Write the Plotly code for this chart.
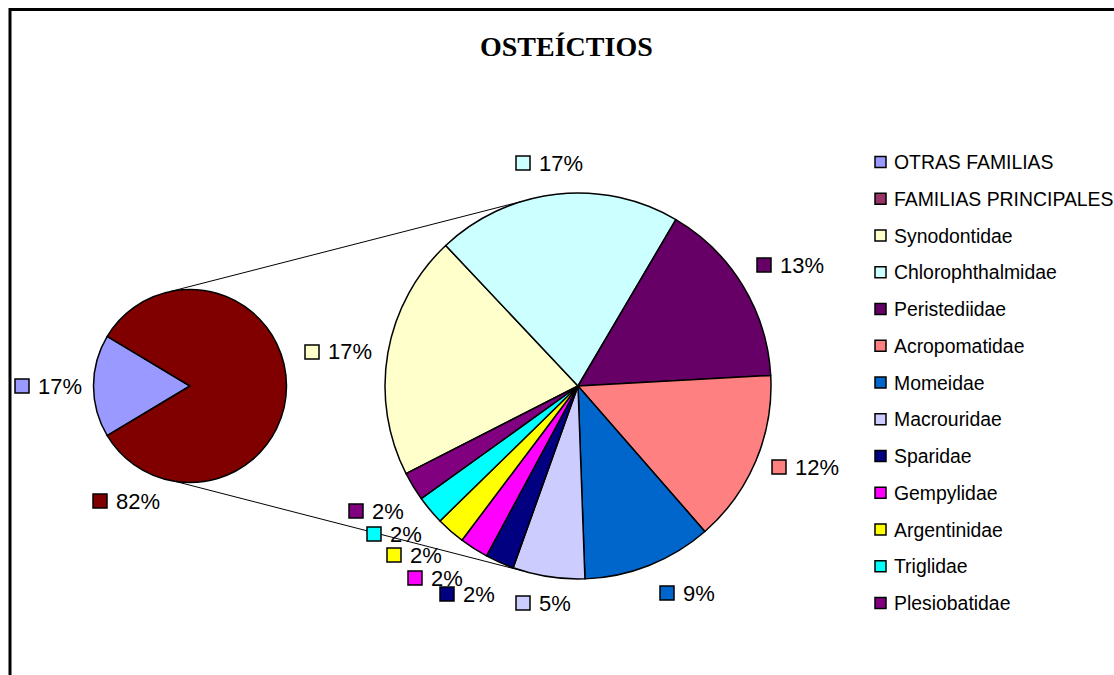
import math
import plotly.graph_objects as go

# ---- data -----------------------------------------------------------------
main_labels = ["OTRAS FAMILIAS", "FAMILIAS PRINCIPALES"]
main_pct = [17, 82]

family_labels = ["Synodontidae", "Chlorophthalmidae", "Peristediidae", "Acropomatidae",
                 "Momeidae", "Macrouridae", "Sparidae", "Gempylidae", "Argentinidae",
                 "Triglidae", "Plesiobatidae"]
family_pct = [17, 17, 13, 12, 9, 5, 2, 2, 2, 2, 2]

# ---- styling ----------------------------------------------------------------
W, H = 1114, 675
main_colors = ["#9999FF", "#800000"]
main_legend_colors = ["#9999FF", "#993366"]
family_colors = ["#FFFFCC", "#CCFFFF", "#660066", "#FF8080", "#0066CC", "#CCCCFF",
                 "#000080", "#FF00FF", "#FFFF00", "#00FFFF", "#800080"]

SANS = "Arial, Liberation Sans, sans-serif"
SERIF = "Times New Roman, Liberation Serif, serif"

# pie geometry in pixels (centre x, centre y, radius)
main_geo = (190, 386, 96.5)
fam_geo = (578, 386, 193)

# label anchors: (left edge of colour key, vertical centre) in pixels
main_label_pos = [(15, 386), (93, 501)]
fam_label_pos = [(305, 352), (516, 163), (757, 265), (772, 467), (660, 593), (516, 603),
                 (440, 594), (408, 578), (387, 555), (367, 534), (349, 511)]


def px(x):
    return x / W


def py(y):
    return 1 - y / H


def domain(geo):
    cx, cy, r = geo
    return dict(x=[px(cx - r), px(cx + r)], y=[py(cy + r), py(cy - r)])


def start_angle(values, first_centre):
    # clockwise rotation (deg from 12 o'clock) so the first slice is centred on first_centre
    return first_centre - 180.0 * values[0] / sum(values)


fig = go.Figure()

fig.add_trace(go.Pie(
    labels=main_labels, values=main_pct, sort=False, direction="clockwise",
    rotation=start_angle(main_pct, 270), domain=domain(main_geo),
    marker=dict(colors=main_colors, line=dict(color="black", width=1.5)),
    textinfo="none", hoverinfo="label+value", showlegend=False,
))

fig.add_trace(go.Pie(
    labels=family_labels, values=family_pct, sort=False, direction="clockwise",
    rotation=243, domain=domain(fam_geo),
    marker=dict(colors=family_colors, line=dict(color="black", width=1.5)),
    textinfo="none", hoverinfo="label+value", showlegend=False,
))

shapes = []
annotations = []


def on_circle(geo, ang):
    cx, cy, r = geo
    a = math.radians(ang)
    return cx + r * math.sin(a), cy - r * math.cos(a)


# connector lines between the two pies
for a_main, a_fam in [(-12, -17), (189, 196.5)]:
    x0, y0 = on_circle(main_geo, a_main)
    x1, y1 = on_circle(fam_geo, a_fam)
    shapes.append(dict(type="line", xref="paper", yref="paper",
                       x0=px(x0), y0=py(y0), x1=px(x1), y1=py(y1),
                       line=dict(color="black", width=1)))


def key_box(x, y, size, color, lw):
    h = size / 2
    shapes.append(dict(type="rect", xref="paper", yref="paper",
                       x0=px(x), x1=px(x + size), y0=py(y + h), y1=py(y - h),
                       fillcolor=color, line=dict(color="black", width=lw)))


# percentage labels with colour keys
for vals, colors, positions in [(main_pct, main_colors, main_label_pos),
                                (family_pct, family_colors, fam_label_pos)]:
    for v, c, (x, y) in zip(vals, colors, positions):
        key_box(x, y, 14, c, 1.5)
        annotations.append(dict(x=px(x + 21), y=py(y), xref="paper", yref="paper",
                                text=f"{v}%", showarrow=False, xanchor="left",
                                yanchor="middle", font=dict(family=SANS, size=22, color="black")))

# legend
legend_items = list(zip(main_labels, main_legend_colors)) + list(zip(family_labels, family_colors))
for i, (lab, c) in enumerate(legend_items):
    y = 162 + 36.75 * i
    key_box(875, y, 11, c, 1.5)
    annotations.append(dict(x=px(892), y=py(y), xref="paper", yref="paper", text=lab,
                            showarrow=False, xanchor="left", yanchor="middle",
                            font=dict(family=SANS, size=19.4, color="black")))

# title
annotations.append(dict(x=px(566), y=py(47), xref="paper", yref="paper",
                        text="<b>OSTEÍCTIOS</b>", showarrow=False, xanchor="center",
                        yanchor="middle", font=dict(family=SERIF, size=28, color="black")))

# chart-area frame
shapes.append(dict(type="rect", xref="paper", yref="paper",
                   x0=px(10), x1=px(W + 20), y0=py(H + 20), y1=py(9.5),
                   line=dict(color="black", width=3), fillcolor="rgba(0,0,0,0)"))

fig.update_layout(
    width=W, height=H, margin=dict(l=0, r=0, t=0, b=0),
    paper_bgcolor="white", plot_bgcolor="white",
    shapes=shapes, annotations=annotations, showlegend=False,
)

fig.write_html("out.html")
